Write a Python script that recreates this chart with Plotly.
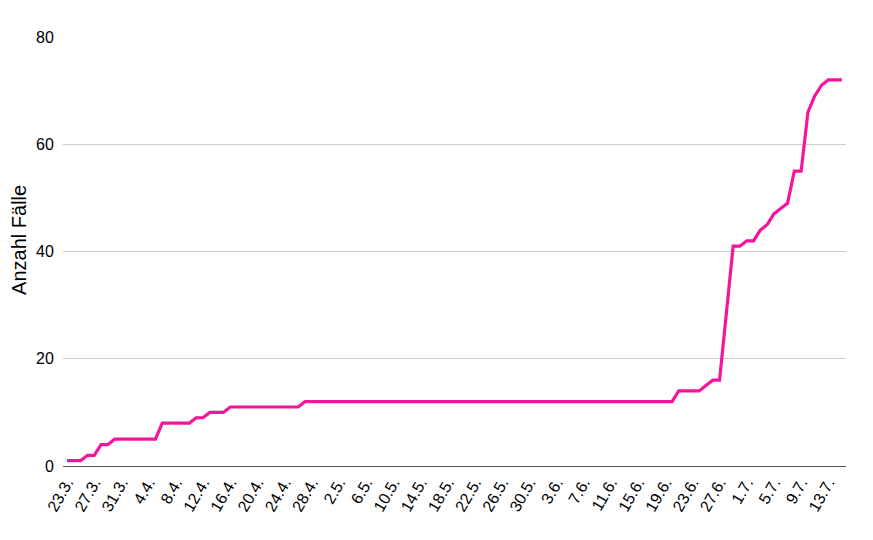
import pandas as pd
import plotly.graph_objects as go

# Daily dates from 23.3. to 15.7.
dates = pd.date_range("2020-03-23", "2020-07-15", freq="D")
date_labels = [f"{d.day}.{d.month}." for d in dates]

# Cumulative case counts (one per day)
cases = [
    1, 1, 1, 2, 2, 4, 4, 5, 5, 5, 5, 5, 5, 5,
    8, 8, 8, 8, 8, 9, 9, 10, 10, 10,
    11, 11, 11, 11, 11, 11, 11, 11, 11, 11, 11,
    12, 12, 12, 12, 12, 12, 12, 12, 12, 12, 12, 12, 12, 12, 12,
    12, 12, 12, 12, 12, 12, 12, 12, 12, 12, 12, 12, 12, 12, 12,
    12, 12, 12, 12, 12, 12, 12, 12, 12, 12, 12, 12, 12, 12, 12,
    12, 12, 12, 12, 12, 12, 12, 12, 12, 12,
    14, 14, 14, 14, 15, 16, 16, 28,
    41, 41, 42, 42, 44, 45, 47, 48, 49, 55, 55,
    66, 69, 71, 72, 72, 72,
]

y_ticks = [0, 20, 40, 60, 80]

# every fourth day gets a label
tick_labels = date_labels[::4]

fig = go.Figure()

fig.add_trace(
    go.Scatter(
        x=date_labels,
        y=cases,
        mode="lines",
        line=dict(color="#f7139b", width=3.2),
        showlegend=False,
        hoverinfo="x+y",
    )
)

fig.update_layout(
    width=873,
    height=540,
    # page body adds 8px, so the plot area is offset to land where the original is
    margin=dict(l=55, r=35, t=29, b=82),
    paper_bgcolor="white",
    plot_bgcolor="white",
    font=dict(family="Liberation Sans, Arial, sans-serif", color="#000000"),
)

fig.update_xaxes(
    type="category",
    range=[-0.6, len(cases) - 0.4],
    tickmode="array",
    tickvals=tick_labels,
    ticktext=tick_labels,
    tickangle=-60,
    tickfont=dict(size=16),
    showgrid=False,
    showline=True,
    linecolor="#555555",
    linewidth=1,
    ticks="",
    automargin=False,
)

fig.update_yaxes(
    range=[0, 80],
    tickvals=y_ticks,
    tickfont=dict(size=16),
    showgrid=True,
    gridcolor="#cccccc",
    gridwidth=1,
    zeroline=False,
    ticks="outside",
    ticklen=5,
    tickcolor="white",
    automargin=False,
)

# y-axis title placed by hand (sits a bit above the plot centre in the original)
fig.add_annotation(
    text="Anzahl Fälle",
    textangle=-90,
    xref="paper",
    yref="paper",
    x=0,
    y=0.527,
    xanchor="center",
    yanchor="middle",
    xshift=-44,
    showarrow=False,
    font=dict(size=20),
)

fig.write_html("out.html")
